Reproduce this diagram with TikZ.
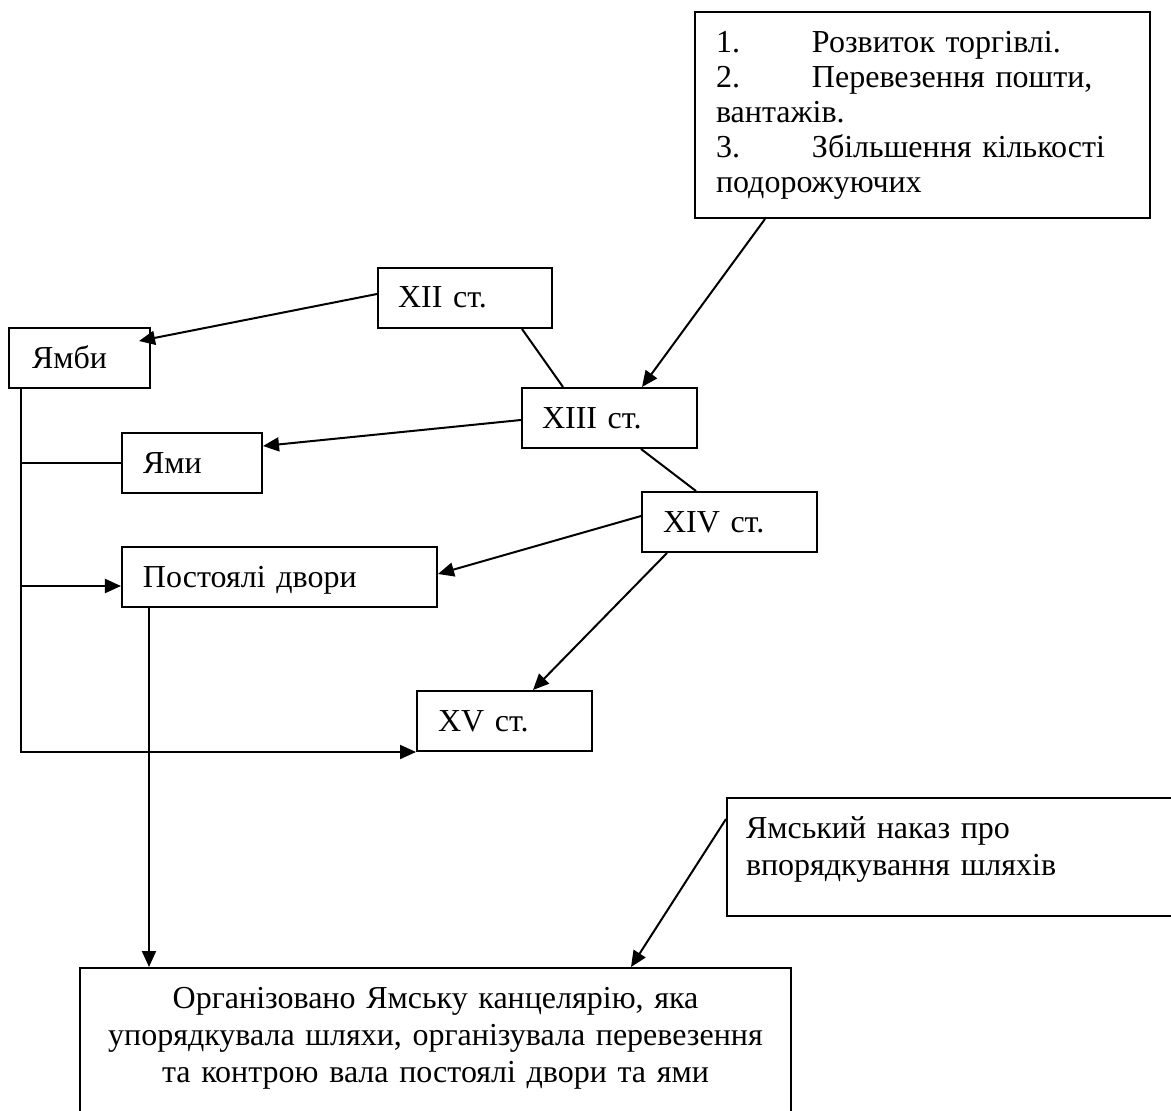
\documentclass[tikz,border=0pt]{standalone}
\usepackage{fontspec}
\setmainfont{Liberation Serif}
\usetikzlibrary{arrows.meta}
\begin{document}
\begin{tikzpicture}[x=0.4pt,y=-0.4pt,
  bx/.style={draw, line width=0.8pt, rectangle, inner ysep=0pt, font=\fontsize{12.8}{14.8}\selectfont},
  one/.style={bx, align=left, text height=10pt, text depth=2pt, minimum height=24pt},
  arr/.style={line width=0.8pt, -{Triangle[length=6.4pt,width=5.6pt]}},
  ln/.style={line width=0.8pt}]
\path[use as bounding box, clip] (0,0) rectangle (1171,1111);

% boxes
\node[bx, align=left, inner xsep=8.4pt, text width=165.2pt, minimum height=82.4pt,
      font=\fontsize{12.8}{14}\selectfont] (top) at (922.5,115)
  {\makebox[38.4pt][l]{1.}Розвиток торгівлі.\\
   \makebox[38.4pt][l]{2.}Перевезення пошти,\\
   вантажів.\\
   \makebox[38.4pt][l]{3.}Збільшення кількості\\
   подорожуючих};
\node[one, inner xsep=8pt, text width=53.6pt] (xii) at (465,298) {XII ст.};
\node[one, inner xsep=9.2pt, text width=38pt] (yambi) at (79.5,358) {Ямби};
\node[one, inner xsep=8pt, text width=54pt] (xiii) at (609.5,418) {XIII ст.};
\node[one, inner xsep=8.4pt, text width=39.2pt] (yami) at (192,463) {Ями};
\node[one, inner xsep=8.4pt, text width=53.2pt] (xiv) at (729.5,522) {XIV ст.};
\node[one, inner xsep=8.4pt, text width=109.2pt] (post) at (279.5,577) {Постоялі двори};
\node[one, inner xsep=8.4pt, text width=53.2pt] (xv) at (504.5,721) {XV ст.};
\node[bx, align=left, inner xsep=7.6pt, text width=174pt, minimum height=47.2pt] (nakaz) at (963.5,857)
  {Ямський наказ про\\впорядкування шляхів\rule[-9pt]{0pt}{0pt}};
\node[bx, align=center, inner xsep=7.2pt, text width=270pt, minimum height=59.2pt] (kanc) at (435.5,1042)
  {Організовано Ямську канцелярію, яка\\
   упорядкувала шляхи, організувала перевезення\\
   та контрою вала постоялі двори та ями\rule[-5.5pt]{0pt}{0pt}};

% connectors
\draw[arr] ([shift={(71,0)}]top.south west) -- ([shift={(121,0)}]xiii.north west);
\draw[arr] ([shift={(0,27)}]xii.north west) -- ([shift={(-12,14)}]yambi.north east);
\draw[ln] ([shift={(145,0)}]xii.south west) -- ([shift={(42,0)}]xiii.north west);
\draw[arr] ([shift={(0,33)}]xiii.north west) -- ([shift={(0,14)}]yami.north east);
\draw[ln] ([shift={(120,0)}]xiii.south west) -- ([shift={(55,0)}]xiv.north west);
\draw[arr] ([shift={(0,25)}]xiv.north west) -- ([shift={(0,28)}]post.north east);
\draw[arr] ([shift={(26,0)}]xiv.south west) -- ([shift={(117,0)}]xv.north west);

\coordinate (trunk) at ([shift={(13,0)}]yambi.south west);
\coordinate (pin) at ([shift={(0,40)}]post.north west);
\draw[arr] (trunk) |- (xv.south west);
\draw[ln] (yami.west) -- (trunk |- yami.west);
\draw[arr] (trunk |- pin) -- (pin);

\coordinate (pdown) at ([shift={(28,0)}]post.south west);
\draw[arr] (pdown) -- (pdown |- kanc.north);
\draw[arr] ([shift={(0,22)}]nakaz.north west) -- ([shift={(552,0)}]kanc.north west);
\end{tikzpicture}
\end{document}
